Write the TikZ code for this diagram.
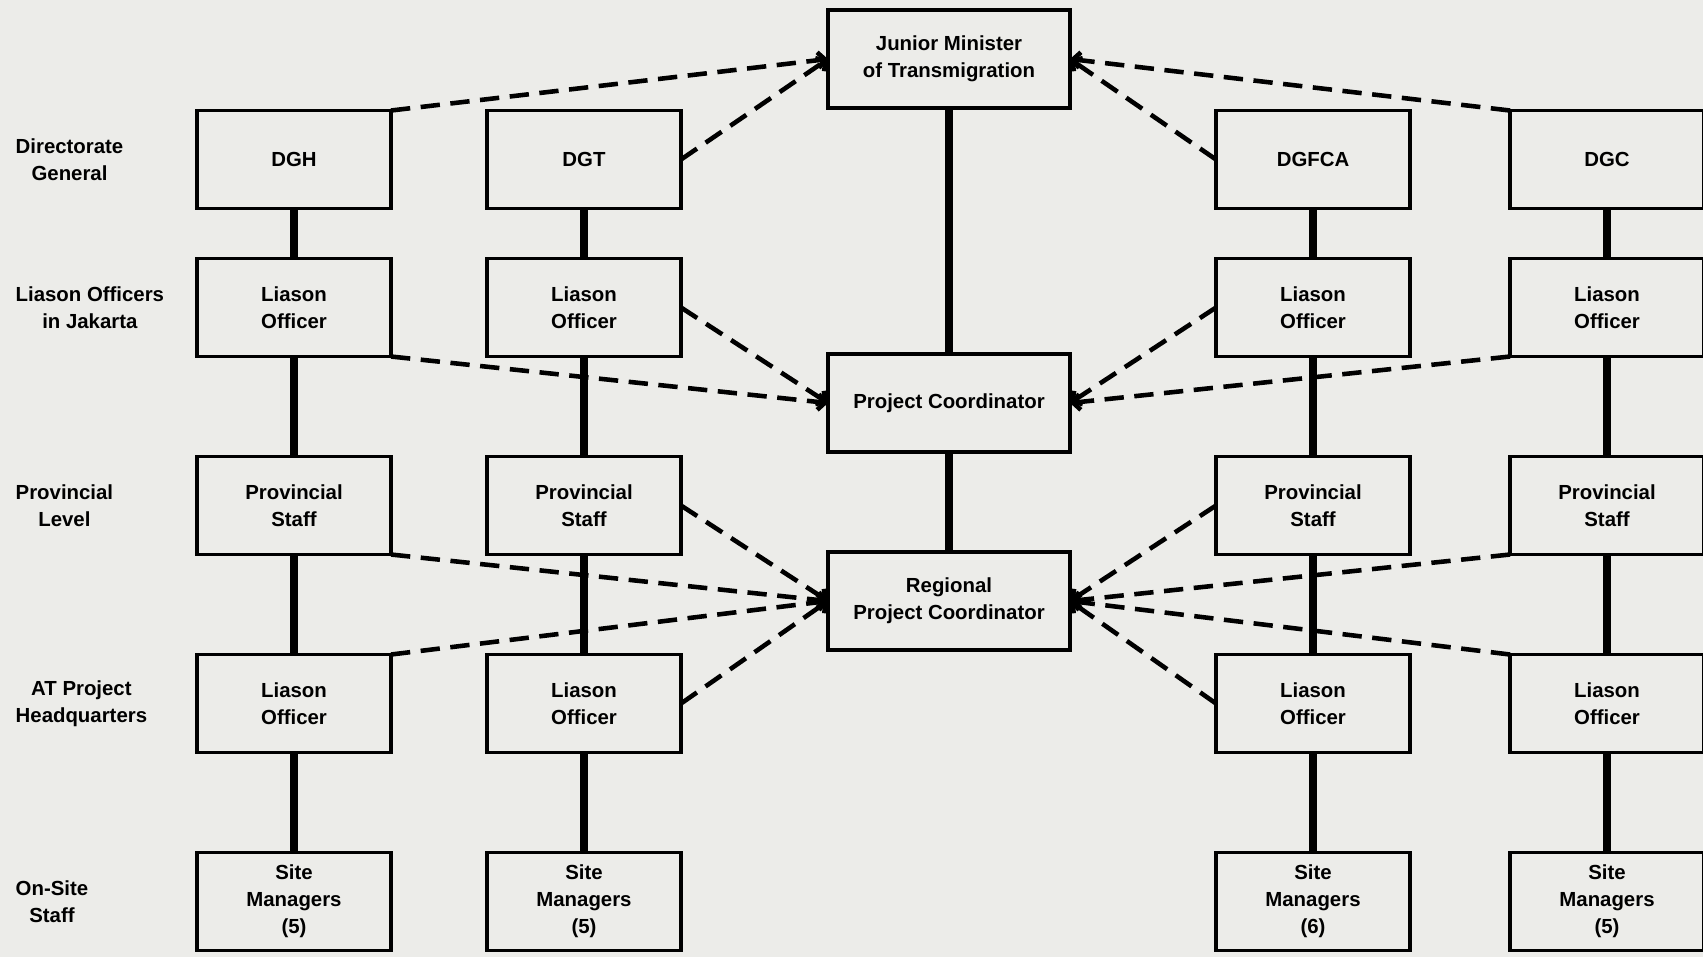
\documentclass[tikz,border=0pt]{standalone}
\usepackage{fontspec}
\setmainfont{Liberation Sans}
\usepackage{tikz}
\usetikzlibrary{shapes,arrows,arrows.meta,positioning,calc}
\definecolor{paper}{RGB}{236,236,233}
\newcommand{\boxfont}{\fontsize{5.8}{7.7}\selectfont\bfseries}

\begin{document}
\begin{tikzpicture}[node distance=1.0cm, auto, >={Straight Barb[length=2pt,width=4.5pt]}, every text node part/.style={align=center},
    box/.style={draw, rectangle, line width=0.9pt, minimum width=1.94cm, minimum height=0.98cm, outer sep=0pt, inner sep=1pt, font=\boxfont},
    wbox/.style={box, minimum width=2.42cm},
    lbl/.style={anchor=west, inner sep=0pt, font=\boxfont},
    vline/.style={line width=2.5pt},
    dline/.style={->, line width=1.3pt, dash pattern=on 5.5pt off 3pt}]
    \fill [paper] (0,0) rectangle (17.03,-9.57);
    \useasboundingbox (0,0) rectangle (17.03,-9.57);

    \node [box] (dgh) at (2.94,-1.595) {DGH};
    \node [box, right=0.96cm of dgh] (dgt) {DGT};
    \node [box, right=5.35cm of dgt] (dgfca) {DGFCA};
    \node [box, right=1.0cm of dgfca] (dgc) {DGC};

    \node [box, below=0.5cm of dgh] (loa) {Liason\\Officer};
    \node [box, below=0.5cm of dgt] (lob) {Liason\\Officer};
    \node [box, below=0.5cm of dgfca] (loc) {Liason\\Officer};
    \node [box, below=0.5cm of dgc] (lod) {Liason\\Officer};

    \node [box, below=of loa] (pra) {Provincial\\Staff};
    \node [box, below=of lob] (prb) {Provincial\\Staff};
    \node [box, below=of loc] (prc) {Provincial\\Staff};
    \node [box, below=of lod] (prd) {Provincial\\Staff};

    \node [box, below=of pra] (hqa) {Liason\\Officer};
    \node [box, below=of prb] (hqb) {Liason\\Officer};
    \node [box, below=of prc] (hqc) {Liason\\Officer};
    \node [box, below=of prd] (hqd) {Liason\\Officer};

    \node [box, below=of hqa] (sma) {Site\\Managers\\(5)};
    \node [box, below=of hqb] (smb) {Site\\Managers\\(5)};
    \node [box, below=of hqc] (smc) {Site\\Managers\\(6)};
    \node [box, below=of hqd] (smd) {Site\\Managers\\(5)};

    \node [wbox] (jm) at (9.49,-0.59) {Junior Minister\\of Transmigration};
    \node [wbox, below=2.46cm of jm] (pc) {Project Coordinator};
    \node [wbox, below=of pc] (rpc) {Regional\\Project Coordinator};

    \node [lbl] (ldg) at (0.15,0 |- dgh) {Directorate\\General};
    \node [lbl] (llo) at (0.15,0 |- loa) {Liason Officers\\in Jakarta};
    \node [lbl] (lpr) at (0.15,0 |- pra) {Provincial\\Level};
    \node [lbl] (lhq) at (0.15,0 |- hqa) {AT Project\\Headquarters};
    \node [lbl] (lsm) at (0.15,0 |- sma) {On-Site\\Staff};

    \foreach \a/\b in {dgh/loa, loa/pra, pra/hqa, hqa/sma, dgt/lob, lob/prb, prb/hqb, hqb/smb,
                       dgfca/loc, loc/prc, prc/hqc, hqc/smc, dgc/lod, lod/prd, prd/hqd, hqd/smd,
                       jm/pc, pc/rpc}
        \draw [vline] (\a) -- (\b);

    \draw [dline] (dgh.north east) -- (jm.west);
    \draw [dline] (dgt.east) -- (jm.west);
    \draw [dline] (dgfca.west) -- (jm.east);
    \draw [dline] (dgc.north west) -- (jm.east);

    \draw [dline] (loa.south east) -- (pc.west);
    \draw [dline] (lob.east) -- (pc.west);
    \draw [dline] (loc.west) -- (pc.east);
    \draw [dline] (lod.south west) -- (pc.east);

    \draw [dline] (pra.south east) -- (rpc.west);
    \draw [dline] (prb.east) -- (rpc.west);
    \draw [dline] (hqa.north east) -- (rpc.west);
    \draw [dline] (hqb.east) -- (rpc.west);
    \draw [dline] (prc.west) -- (rpc.east);
    \draw [dline] (prd.south west) -- (rpc.east);
    \draw [dline] (hqc.west) -- (rpc.east);
    \draw [dline] (hqd.north west) -- (rpc.east);
\end{tikzpicture}
\end{document}
